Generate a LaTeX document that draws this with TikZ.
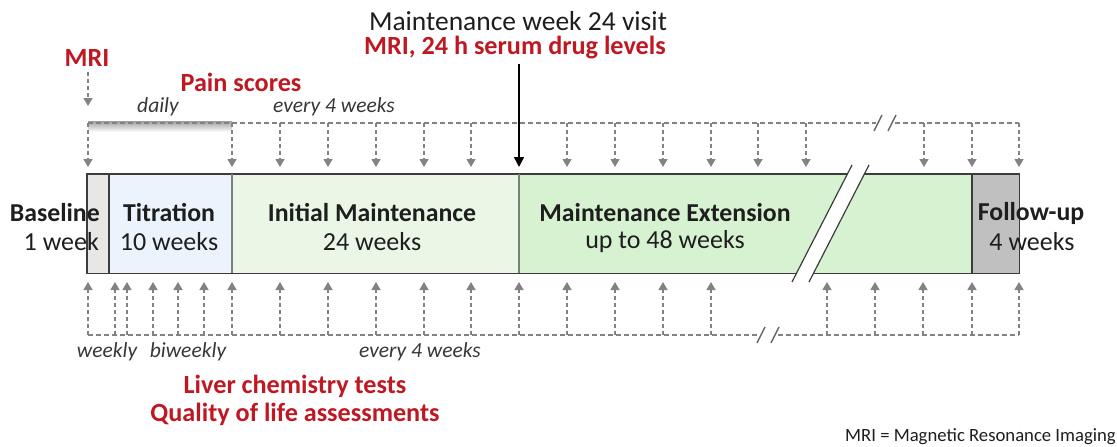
\documentclass[tikz,border=0pt]{standalone}
\usepackage{fontspec}
\setmainfont{Carlito}
\usetikzlibrary{arrows.meta}
\definecolor{redt}{RGB}{192,24,34}
\definecolor{textc}{RGB}{30,30,30}
\definecolor{itc}{RGB}{55,55,55}
\definecolor{grayarr}{RGB}{130,130,130}
\definecolor{baseC}{RGB}{232,231,229}
\definecolor{titC}{RGB}{235,243,252}
\definecolor{initC}{RGB}{234,247,230}
\definecolor{extC}{RGB}{214,242,209}
\definecolor{folC}{RGB}{192,192,192}
\definecolor{edge}{RGB}{60,60,60}
\definecolor{softedge}{RGB}{120,130,120}
\begin{document}
\begin{tikzpicture}[x=1pt,y=-1pt,
  darr/.style={grayarr, line width=1.4pt, dash pattern=on 4pt off 3pt, -{Triangle[width=9pt,length=8pt]}},
  dline/.style={grayarr, line width=1.4pt, dash pattern=on 5pt off 3pt},
  slash/.style={grayarr!80!black, line width=1.4pt},
  big/.style={font=\fontsize{26}{30}\selectfont, text=textc, inner sep=0pt},
  bigb/.style={font=\fontsize{25.8}{30}\selectfont\bfseries, text=textc, inner sep=0pt},
  redb/.style={font=\fontsize{26.2}{30}\selectfont\bfseries, text=redt, inner sep=0pt},
  itl/.style={font=\fontsize{21.5}{26}\selectfont\itshape, text=itc, inner sep=0pt},
  phase/.style={draw=none, inner sep=0pt, anchor=north west, minimum height=99pt}]
\useasboundingbox (0,0) rectangle (1117,447);

% ---------- top texts ----------
\node[big, font=\fontsize{27.5}{30}\selectfont]  (visit) at (518,21) {Maintenance week 24 visit};
\node[redb] (mri24) at (515,48) {MRI, 24 h serum drug levels};
\node[redb] (mri)   at (87,58)  {MRI};
\node[redb] (pain)  at (241,82) {Pain scores};
\node[itl]  (daily) at (158,107) {daily};
\node[itl]  (evtop) at (334,107) {every 4 weeks};

% MRI arrow
\coordinate (mriA) at (88,72);
\coordinate (mriB) at (88,106);
\draw[darr] (mriA) -- (mriB);

% ---------- phase boxes ----------
\node[phase, fill=baseC, minimum width=22pt]  (base) at (87,174) {};
\node[phase, fill=titC,  minimum width=123pt] (tit)  at (109,174) {};
\node[phase, fill=initC, minimum width=287pt] (init) at (232,174) {};
\node[phase, fill=extC,  minimum width=453pt] (ext)  at (519,174) {};
\node[phase, fill=folC,  minimum width=47pt]  (fol)  at (972,174) {};
\draw[edge, line width=1.4pt] (base.north west) rectangle (fol.south east);
\draw[edge, line width=1.3pt] (tit.north west) -- (tit.south west);
\draw[softedge, line width=1.1pt] (init.north west) -- (init.south west);
\draw[softedge, line width=1.1pt] (ext.north west) -- (ext.south west);
\draw[edge, line width=1.3pt] (fol.north west) -- (fol.south west);

% break in the bar
\coordinate (b1t) at (852,165);
\coordinate (b1b) at (792,282);
\coordinate (b2t) at (869,165);
\coordinate (b2b) at (809,282);
\fill[white] (b1t) -- (b2t) -- (b2b) -- (b1b) -- cycle;
\draw[edge, line width=1.2pt] (b1t) -- (b1b);
\draw[edge, line width=1.2pt] (b2t) -- (b2b);

% phase labels
\node[bigb, anchor=east] (lb1) at (100,213) {Baseline};
\node[big,  anchor=east] (lb2) at (99,242) {1 week};
\node[bigb] (lt1) at (169,213) {Titration};
\node[big]  (lt2) at (169,242) {10 weeks};
\node[bigb] (li1) at (372,213) {Initial Maintenance};
\node[big]  (li2) at (372,242) {24 weeks};
\node[bigb] (le1) at (665,213) {Maintenance Extension};
\node[big]  (le2) at (665,242) {up to 48 weeks};
\node[bigb] (lf1) at (1031,213) {Follow-up};
\node[big]  (lf2) at (1032,242) {4 weeks};

% ---------- top dashed timeline ----------
\shade[top color=gray!75, bottom color=white] (88,121) rectangle (232,132);
\coordinate (tl0) at (88,123);
\coordinate (tlA) at (876,123);
\coordinate (tlB) at (895,123);
\coordinate (tl1) at (1019,123);
\draw[dline] (tl0) -- (tlA);
\draw[dline] (tlB) -- (tl1);
\draw[slash] (874,131) -- (882,115);
\draw[slash] (888,131) -- (896,115);
\foreach \x [count=\i] in {88,232,280,328,376,424,471,567,615,663,711,758,806,924,972,1019}{
  \coordinate (ta\i) at (\x,123);
  \coordinate (tb\i) at (\x,167);
  \draw[darr] (ta\i) -- (tb\i);
}
% black arrow for week 24 visit
\coordinate (vA) at (519,64);
\coordinate (vB) at (519,167);
\draw[black, line width=1.5pt, -{Triangle[width=10pt,length=10pt]}] (vA) -- (vB);

% ---------- bottom dashed timeline ----------
\coordinate (bl0) at (88,335);
\coordinate (blA) at (759,335);
\coordinate (blB) at (778,335);
\coordinate (bl1) at (1019,335);
\draw[dline] (bl0) -- (blA);
\draw[dline] (blB) -- (bl1);
\draw[slash] (757,343) -- (765,327);
\draw[slash] (771,343) -- (779,327);
\foreach \x [count=\i] in {88,115,127,153,178,204,232,280,328,376,424,471,519,567,615,663,711,827,875,923,972,1019}{
  \coordinate (ba\i) at (\x,335);
  \coordinate (bb\i) at (\x,282);
  \draw[darr] (ba\i) -- (bb\i);
}

% bottom texts
\node[itl] (weekly) at (107,352) {weekly};
\node[itl] (biw)    at (188,352) {biweekly};
\node[itl] (evbot)  at (420,352) {every 4 weeks};
\node[redb] (liver) at (295,386) {Liver chemistry tests};
\node[redb] (qol)   at (295,414) {Quality of life assessments};
\node[font=\fontsize{18.7}{22}\selectfont, text=textc, inner sep=0pt, anchor=east] (legend) at (1116,437) {MRI = Magnetic Resonance Imaging};
\end{tikzpicture}
\end{document}
